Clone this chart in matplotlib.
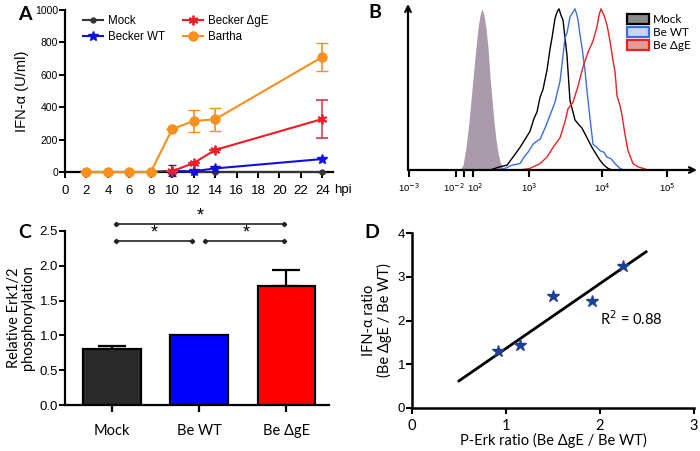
import numpy as np
import matplotlib
matplotlib.use("Agg")
import matplotlib.pyplot as plt
from matplotlib.patches import Patch
from matplotlib.lines import Line2D
from matplotlib.transforms import ScaledTranslation

plt.rcParams['font.family'] = ['Liberation Sans', 'DejaVu Sans']

# ---------------- Panel A data ----------------
hpi_all = [2, 4, 6, 8, 10, 12, 14, 24]
mock_vals = [0, 0, 0, 0, 8, 0, 0, 0]
mock_err = [0, 0, 0, 0, 35, 0, 0, 0]
wt_hpi = [10, 12, 14, 24]
wt_vals = [3, 5, 22, 80]
dge_hpi = [10, 12, 14, 24]
dge_vals = [5, 55, 136, 327]
dge_err = [0, 0, 0, 117]
bartha_vals = [0, 0, 0, 0, 265, 315, 325, 710]
bartha_err = [0, 0, 0, 0, 0, 68, 70, 85]
a_xticks = [0, 2, 4, 6, 8, 10, 12, 14, 16, 18, 20, 22, 24]
a_yticks = [0, 200, 400, 600, 800, 1000]
a_series = ['Mock', 'Becker WT', 'Becker ΔgE', 'Bartha']

# ---------------- Panel B data (channel units) ----------------
iso_x = [52, 55, 58, 61, 64, 67, 70, 72, 74, 76, 78, 80, 82, 84, 86, 88, 90, 92, 95, 98]
iso_y = [0, 3, 14, 30, 50, 70, 88, 96, 100, 96, 88, 76, 58, 44, 30, 19, 11, 5, 1, 0]
mockh_x = [82, 87, 92, 99, 105, 112, 118, 122, 126, 129, 132, 135, 139, 142, 144, 147, 149, 151,
           153, 155, 157, 159, 162, 165, 167, 171, 174, 179, 184, 188, 192, 196, 200, 204]
mockh_y = [0, 1, 2, 3, 8, 14, 20, 24, 32, 36, 45, 50, 62, 75, 82, 94, 98, 100,
           96, 93, 82, 71, 43, 36, 31, 28, 26, 20, 14, 10, 6, 3, 1, 0]
wth_x = [90, 97, 104, 112, 116, 120, 125, 129, 132, 137, 142, 147, 150, 152, 155, 157, 159, 162,
         165, 167, 169, 170, 172, 174, 177, 179, 182, 185, 189, 192, 196, 199, 203, 207, 212, 216]
wth_y = [0, 1, 3, 4, 8, 11, 16, 18, 19, 26, 34, 42, 50, 55, 71, 82, 85, 95,
         98, 100, 96, 93, 84, 76, 62, 49, 32, 16, 14, 12, 11, 8, 7, 4, 1, 0]
dgeh_x = [112, 122, 132, 139, 145, 152, 157, 160, 165, 170, 175, 180, 185, 189, 191, 193, 196, 199,
          202, 205, 207, 209, 212, 214, 217, 220, 225, 230, 235, 240]
dgeh_y = [0, 1, 4, 8, 14, 20, 30, 38, 42, 52, 64, 73, 80, 89, 96, 100, 96, 90,
          80, 68, 61, 46, 40, 34, 22, 12, 4, 2, 1, 0]
b_tick_pos = [1, 48, 56, 65, 121, 194, 259]
b_tick_lab = ['10$^{-3}$', '10$^{-2}$', '', '10$^{2}$', '10$^{3}$', '10$^{4}$', '10$^{5}$']
b_legend = ['Mock', 'Be WT', 'Be ΔgE']

# ---------------- Panel C data ----------------
c_cats = ['Mock', 'Be WT', 'Be ΔgE']
c_vals = [0.80, 1.00, 1.71]
c_err = [0.045, 0.0, 0.23]
c_yticks = [0.0, 0.5, 1.0, 1.5, 2.0, 2.5]

# ---------------- Panel D data ----------------
d_x = [0.92, 1.15, 1.50, 1.91, 2.24]
d_y = [1.30, 1.44, 2.56, 2.45, 3.25]
fit_x = [0.50, 2.49]
fit_y = [0.62, 3.57]

fig = plt.figure(figsize=(7.0, 4.51), dpi=100)
W, H = 700.0, 451.0

def ax_px(l, t, r, b):
    return fig.add_axes([l / W, 1 - b / H, (r - l) / W, (b - t) / H])

CAL = ['Lato', 'DejaVu Sans']

# ================= Panel A =================
axA = ax_px(65, 10, 333, 172)
axA.set_xlim(0, 25)
axA.set_ylim(0, 1000)
for s in ['top', 'right']:
    axA.spines[s].set_visible(False)
for s in ['left', 'bottom']:
    axA.spines[s].set_linewidth(1.6)
axA.spines['bottom'].set_zorder(1)
axA.set_xticks(a_xticks)
axA.set_yticks(a_yticks)
axA.tick_params(axis='y', direction='out', length=4, width=1.4, labelsize=7.5, pad=1)
axA.tick_params(axis='x', direction='out', length=4, width=1.4, labelsize=9.5, pad=5)

c_mock, c_wt, c_dge, c_bar = '#333333', '#1010e0', '#ee1c25', '#f7901e'
axA.errorbar(hpi_all, mock_vals, yerr=mock_err, color=c_mock, marker='o', ms=3.5,
             lw=1.5, capsize=3, elinewidth=1.2, clip_on=False, zorder=3)
axA.errorbar(wt_hpi, wt_vals, color=c_wt, marker='*', ms=7, lw=1.5,
             clip_on=False, zorder=4)
axA.errorbar(dge_hpi, dge_vals, yerr=dge_err, color=c_dge, ecolor='#e04050',
             marker=(6, 2, 0), ms=7, mew=1.3, lw=1.5, capsize=4, elinewidth=1.2,
             clip_on=False, zorder=5)
axA.errorbar(hpi_all, bartha_vals, yerr=bartha_err, color=c_bar, marker='o', ms=6.5,
             lw=1.5, capsize=4, elinewidth=1.2, clip_on=False, zorder=6)
a_handles = [Line2D([], [], color=c_mock, marker='o', ms=3.5, lw=1.5),
             Line2D([], [], color=c_wt, marker='*', ms=7, lw=1.5),
             Line2D([], [], color=c_dge, marker=(6, 2, 0), ms=7, mew=1.3, lw=1.5),
             Line2D([], [], color=c_bar, marker='o', ms=6.5, lw=1.5)]
axA.legend(a_handles, a_series, ncol=2, frameon=False,
           loc='upper left', bbox_to_anchor=(0.05, 1.0), fontsize=8.3, handlelength=1.7,
           columnspacing=1.6, handletextpad=0.45, labelspacing=0.35, borderaxespad=0)
axA.set_ylabel('IFN-α (U/ml)', fontsize=10.5, labelpad=4)
axA.text(1.005, -0.11, 'hpi', transform=axA.transAxes, fontsize=9.5, va='center', ha='left')
fig.text(18 / W, 1 - 14 / H, 'A', fontsize=14, fontweight='bold', family=CAL, va='center')

# ================= Panel B =================
axB = ax_px(408, 4, 697, 170)
axB.set_xlim(0, 289)
axB.set_ylim(0, 103)
for s in axB.spines.values():
    s.set_visible(False)
axB.fill_between(iso_x, iso_y, color='#a99ba9', lw=0, zorder=1)
axB.plot(mockh_x, mockh_y, color='black', lw=1.0, zorder=3)
axB.plot(wth_x, wth_y, color='#3b6fe0', lw=1.0, zorder=3)
axB.plot(dgeh_x, dgeh_y, color='#ee2020', lw=1.0, zorder=3)
axB.annotate('', xy=(0, 1.0), xytext=(0, 0), xycoords='axes fraction',
             arrowprops=dict(arrowstyle='->', lw=1.6, color='black', shrinkA=0, shrinkB=0,
                             mutation_scale=10))
axB.annotate('', xy=(1.0, 0), xytext=(0, 0), xycoords='axes fraction',
             arrowprops=dict(arrowstyle='->', lw=1.6, color='black', shrinkA=0, shrinkB=0,
                             mutation_scale=10))
axB.set_yticks([])
axB.set_xticks(b_tick_pos)
axB.set_xticklabels(b_tick_lab)
axB.tick_params(axis='x', direction='out', length=5, width=1.5, labelsize=6.8, pad=3)
labs = axB.get_xticklabels()
labs[1].set_transform(labs[1].get_transform() + ScaledTranslation(-2.5 / 100, 0, fig.dpi_scale_trans))
labs[3].set_transform(labs[3].get_transform() + ScaledTranslation(2.5 / 100, 0, fig.dpi_scale_trans))
b_handles = [Patch(facecolor='#8a8a8a', edgecolor='black', lw=1.6),
             Patch(facecolor='#c7d7f3', edgecolor='#3b6fe0', lw=1.6),
             Patch(facecolor='#e79a9a', edgecolor='#ee2020', lw=1.6)]
axB.legend(b_handles, b_legend, loc='upper left', bbox_to_anchor=(0.74, 0.97), frameon=False,
           handlelength=1.9, handleheight=0.9, handletextpad=0.3,
           labelspacing=0.2, borderaxespad=0, prop={'family': CAL, 'size': 8.5})
fig.text(368 / W, 1 - 12 / H, 'B', fontsize=14, fontweight='bold', family=CAL, va='center')

# ================= Panel C =================
axC = ax_px(65, 231, 329, 405)
xc = np.arange(len(c_cats))
axC.bar(xc, c_vals, width=0.66, color=['#2b2b2b', '#0000ff', '#ff0000'],
        edgecolor='black', lw=1.6, zorder=2)
for xi, v, e in zip(xc, c_vals, c_err):
    if e > 0:
        axC.errorbar([xi], [v], yerr=[[0], [e]], color='black', capsize=10, elinewidth=1.6,
                     capthick=1.6, zorder=1)
axC.set_xlim(-0.54, 2.49)
axC.set_ylim(0, 2.5)
axC.set_yticks(c_yticks)
axC.set_yticklabels([f'{v:.1f}' for v in c_yticks])
axC.set_xticks(xc)
axC.set_xticklabels(c_cats, family=CAL, fontsize=10.5)
for s in ['top', 'right']:
    axC.spines[s].set_visible(False)
for s in ['left', 'bottom']:
    axC.spines[s].set_linewidth(1.6)
axC.tick_params(axis='y', direction='out', length=4, width=1.4, labelsize=9.5, pad=1)
axC.tick_params(axis='x', direction='out', length=5, width=1.6, pad=9)
axC.set_ylabel('Relative Erk1/2\nphosphorylation', family=CAL, fontsize=10.5, labelpad=3,
               linespacing=1.0)
brk = [(0.05, 1.97, 2.60, 1.01), (0.05, 0.92, 2.35, 0.49), (1.07, 1.97, 2.35, 1.54)]
for x0, x1, yb, xs in brk:
    axC.plot([x0, x1], [yb, yb], color='#222222', lw=1.2, marker='D', ms=2.2,
             clip_on=False, zorder=3)
    axC.text(xs, yb - 0.005, '*', ha='center', va='bottom', fontsize=13, clip_on=False)
fig.text(18 / W, 1 - 233 / H, 'C', fontsize=14, fontweight='bold', family=CAL, va='center')

# ================= Panel D =================
axD = ax_px(412, 233, 694, 408)
axD.set_xlim(0, 3)
axD.set_ylim(0, 4)
axD.plot(fit_x, fit_y, color='black', lw=2.0, zorder=2)
axD.plot(d_x, d_y, ls='none', marker='*', ms=9, color='#1f3f93', zorder=3)
for s in ['top', 'right']:
    axD.spines[s].set_visible(False)
for s in ['left', 'bottom']:
    axD.spines[s].set_linewidth(1.8)
axD.set_xticks([0, 1, 2, 3])
axD.set_yticks([0, 1, 2, 3, 4])
axD.tick_params(axis='y', direction='out', length=4, width=1.5, labelsize=9.5, pad=1)
axD.tick_params(axis='x', direction='out', length=4, width=1.5, labelsize=10.5, pad=4)
for t in axD.get_xticklabels():
    t.set_family(CAL)
axD.set_xlabel('P-Erk ratio (Be ΔgE / Be WT)', family=CAL, fontsize=10.5, labelpad=0)
axD.set_ylabel('IFN-α ratio\n(Be ΔgE / Be WT)', family=CAL, fontsize=10.5, labelpad=4,
               linespacing=1.05)
axD.text(2.0, 2.05, 'R$^{2}$ = 0.88', family=CAL, fontsize=10.5, va='center', ha='left')
fig.text(364 / W, 1 - 233 / H, 'D', fontsize=14, fontweight='bold', family=CAL, va='center')

fig.savefig('out.png', dpi=100)
